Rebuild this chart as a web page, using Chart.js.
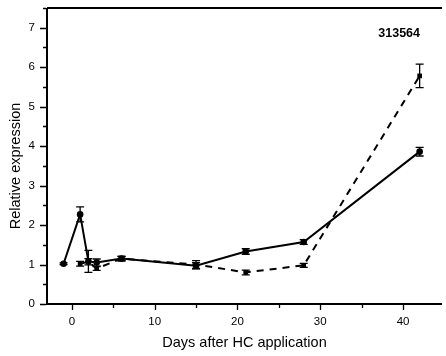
<!DOCTYPE html>
<html>
<head>
<meta charset="utf-8">
<script src="https://cdn.jsdelivr.net/npm/chart.js@4/dist/chart.umd.min.js"></script>
<style>
  body { margin: 0; background: #fff; }
  #wrap { width: 446px; height: 356px; }
</style>
</head>
<body>
<div id="wrap"><canvas id="myChart" width="446" height="356"></canvas></div>
<script>
// data
var solidDays = [-1, 1, 2, 3, 6, 15, 21, 28, 42];
var solidValues = [1.02, 2.27, 1.08, 1.05, 1.15, 0.97, 1.33, 1.57, 3.86];
var solidErr = [0.02, 0.19, 0.28, 0.09, 0.05, 0.08, 0.07, 0.06, 0.11];

var dashDays = [1, 2, 3, 6, 15, 21, 28, 42];
var dashValues = [1.02, 1.07, 0.9, 1.15, 1.0, 0.8, 0.98, 5.78];
var dashErr = [0.06, 0.08, 0.05, 0.06, 0.1, 0.06, 0.05, 0.3];

var xTicks = [0, 10, 20, 30, 40];
var yTicks = [0, 1, 2, 3, 4, 5, 6, 7];
var label = "313564";
var yTitle = "Relative expression";

var font = "Arial, 'Liberation Sans', sans-serif";

function toPoints(xs, ys) {
  return xs.map((x, i) => ({ x: x, y: ys[i] }));
}

// error bars + custom ticks + labels
var extras = {
  id: 'extras',
  afterDatasetsDraw(chart) {
    const ctx = chart.ctx;
    const xs = chart.scales.x, ys = chart.scales.y;
    const area = chart.chartArea;
    ctx.save();
    ctx.strokeStyle = '#000';
    ctx.lineWidth = 1.3;
    const errs = [solidErr, dashErr];
    chart.data.datasets.forEach((ds, d) => {
      ds.data.forEach((p, i) => {
        const e = errs[d][i];
        const px = xs.getPixelForValue(p.x);
        const top = ys.getPixelForValue(p.y + e);
        const bot = ys.getPixelForValue(p.y - e);
        ctx.beginPath();
        ctx.moveTo(px, top); ctx.lineTo(px, bot);
        ctx.moveTo(px - 4, top); ctx.lineTo(px + 4, top);
        ctx.moveTo(px - 4, bot); ctx.lineTo(px + 4, bot);
        ctx.stroke();
      });
    });

    // axes
    ctx.lineWidth = 2;
    ctx.beginPath();
    ctx.moveTo(area.left, area.top); ctx.lineTo(area.right, area.top);
    ctx.moveTo(area.left, area.top); ctx.lineTo(area.left, area.bottom);
    ctx.moveTo(area.left - 1, area.bottom); ctx.lineTo(area.right, area.bottom);
    ctx.stroke();

    ctx.lineWidth = 1.3;
    ctx.beginPath();
    for (let v = 0; v <= 7.5; v += 0.5) {
      const py = Math.round(ys.getPixelForValue(v)) + 0.5;
      const len = (v % 1 === 0) ? 6 : 3;
      ctx.moveTo(area.left - 1, py); ctx.lineTo(area.left - 1 - len, py);
    }
    for (let v = 0; v <= 44; v += 5) {
      const px = Math.round(xs.getPixelForValue(v)) + 0.5;
      const len = (v % 10 === 0) ? 5 : 3;
      ctx.moveTo(px, area.bottom + 1); ctx.lineTo(px, area.bottom + 1 + len);
    }
    ctx.stroke();

    ctx.fillStyle = '#000';
    ctx.font = 'bold 12.5px ' + font;
    ctx.textAlign = 'right';
    ctx.textBaseline = 'middle';
    ctx.fillText(label, 420, 34);

    ctx.font = '14.5px ' + font;
    ctx.textAlign = 'center';
    ctx.translate(16, 166);
    ctx.rotate(-Math.PI / 2);
    ctx.fillText(yTitle, 0, 0);
    ctx.restore();
  }
};

new Chart("myChart", {
  type: "scatter",
  data: {
    datasets: [{
      data: toPoints(solidDays, solidValues),
      showLine: true,
      borderColor: '#000',
      backgroundColor: '#000',
      borderWidth: 2,
      pointStyle: 'circle',
      pointRadius: 3.3,
      pointBorderWidth: 0
    }, {
      data: toPoints(dashDays, dashValues),
      showLine: true,
      borderColor: '#000',
      backgroundColor: '#000',
      borderWidth: 2,
      borderDash: [7, 6],
      pointStyle: 'rect',
      pointRadius: 3.3,
      pointBorderWidth: 0
    }]
  },
  plugins: [extras],
  options: {
    responsive: false,
    animation: false,
    layout: { padding: { top: 8, right: 0, left: 0, bottom: 0 } },
    plugins: { legend: { display: false }, tooltip: { enabled: false } },
    scales: {
      x: {
        type: 'linear',
        min: -3, max: 44.7,
        afterFit(s) { s.height = 52; s.paddingLeft = 0; s.paddingRight = 0; },
        afterBuildTicks(s) { s.ticks = xTicks.map(v => ({ value: v })); },
        grid: { display: false },
        border: { display: false },
        ticks: { color: '#000', font: { family: font, size: 11.5 }, padding: 3 },
        title: { display: true, text: 'Days after HC application', color: '#000',
                 font: { family: font, size: 14.5 }, padding: { top: 2 } }
      },
      y: {
        min: 0, max: 7.5,
        afterFit(s) { s.width = 47; s.paddingTop = 0; s.paddingBottom = 0; },
        afterBuildTicks(s) { s.ticks = yTicks.map(v => ({ value: v })); },
        grid: { display: false },
        border: { display: false },
        ticks: { color: '#000', font: { family: font, size: 11.5 }, padding: 4 },
        title: { display: false }
      }
    }
  }
});
</script>
</body>
</html>
